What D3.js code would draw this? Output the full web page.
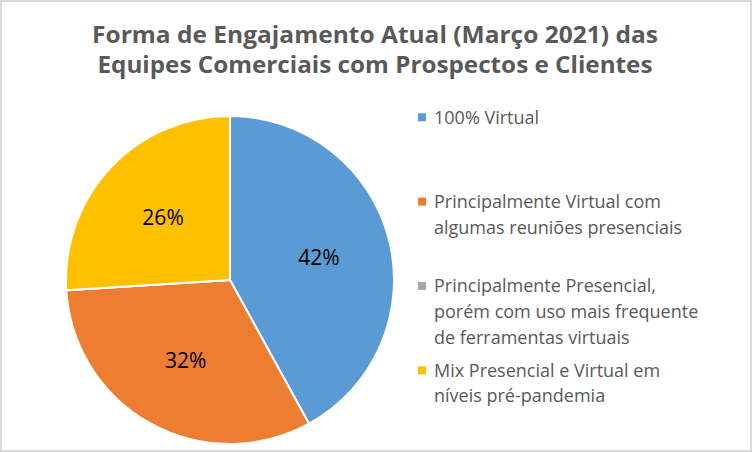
<!DOCTYPE html>
<html>
<head>
<meta charset="utf-8">
<script src="https://cdn.jsdelivr.net/npm/d3@7/dist/d3.min.js"></script>
<style>
  html, body { margin: 0; padding: 0; background: #fff; }
  svg { display: block; }
</style>
</head>
<body>
<svg id="chart" width="752" height="452"></svg>
<script>
// ---- data ----
const titleLines = ["Forma de Engajamento Atual (Março 2021) das", "Equipes Comerciais com Prospectos e Clientes"];
const categories = [
  "100% Virtual",
  "Principalmente Virtual com algumas reuniões presenciais",
  "Principalmente Presencial, porém com uso mais frequente de ferramentas virtuais",
  "Mix Presencial e Virtual em níveis pré-pandemia"
];
const legendLines = [
  ["100% Virtual"],
  ["Principalmente Virtual com", "algumas reuniões presenciais"],
  ["Principalmente Presencial,", "porém com uso mais frequente", "de ferramentas virtuais"],
  ["Mix Presencial e Virtual em", "níveis pré-pandemia"]
];
const values = [42, 32, 0, 26];
const colors = ["#5B9BD5", "#ED7D31", "#A5A5A5", "#FFC000"];

// ---- layout ----
const W = 752, H = 452;
const cx = 230, cy = 280, R = 164;
const FONT = "'Open Sans', sans-serif";
const titleWidths = [566, 555];

const svg = d3.select("#chart");

// frame
svg.append("rect")
  .attr("x", 1).attr("y", 1).attr("width", W - 2).attr("height", H - 2)
  .attr("fill", "#fff").attr("stroke", "#D9D9D9").attr("stroke-width", 2);

// title
svg.append("g").selectAll("text").data(titleLines).join("text")
  .attr("x", 375)
  .attr("y", (d, i) => 43 + i * 29.6)
  .attr("text-anchor", "middle")
  .attr("font-family", FONT)
  .attr("font-weight", "bold")
  .attr("font-size", 23)
  .attr("textLength", (d, i) => titleWidths[i])
  .attr("lengthAdjust", "spacingAndGlyphs")
  .attr("fill", "#595959")
  .text(d => d);

// pie
const color = d3.scaleOrdinal().domain(categories).range(colors);
const pie = d3.pie().sort(null).value(d => d.value);
const data = categories.map((c, i) => ({ cat: c, value: values[i] }));
const arcs = pie(data);
const arc = d3.arc().innerRadius(0).outerRadius(R);
const labelArc = d3.arc().innerRadius(R * 0.56).outerRadius(R * 0.56);
const total = d3.sum(values);

const g = svg.append("g").attr("transform", `translate(${cx},${cy})`);
g.selectAll("path").data(arcs).join("path")
  .attr("d", arc)
  .attr("fill", d => color(d.data.cat))
  .attr("stroke", "#fff")
  .attr("stroke-width", 2)
  .attr("stroke-linejoin", "round");

g.selectAll("text").data(arcs.filter(d => d.data.value > 0)).join("text")
  .attr("transform", d => `translate(${labelArc.centroid(d)})`)
  .attr("text-anchor", "middle")
  .attr("dy", "0.36em")
  .attr("font-family", FONT)
  .attr("font-size", 21)
  .attr("fill", "#000")
  .text(d => Math.round(d.data.value / total * 100) + "%");

// legend
const ly = d3.scalePoint().domain(categories).range([117.3, 370.3]);
const lineH = 25.6;
const lg = svg.append("g");
const items = lg.selectAll("g").data(categories).join("g")
  .attr("transform", d => `translate(418,${ly(d)})`);
items.append("rect")
  .attr("x", 0).attr("y", -4).attr("width", 8).attr("height", 8)
  .attr("fill", d => color(d));
items.append("text")
  .attr("font-family", FONT)
  .attr("font-size", 18)
  .attr("fill", "#595959")
  .selectAll("tspan").data((d, i) => legendLines[i]).join("tspan")
  .attr("x", 16)
  .attr("y", (d, i) => i * lineH)
  .attr("dy", "0.36em")
  .text(d => d);
</script>
</body>
</html>
